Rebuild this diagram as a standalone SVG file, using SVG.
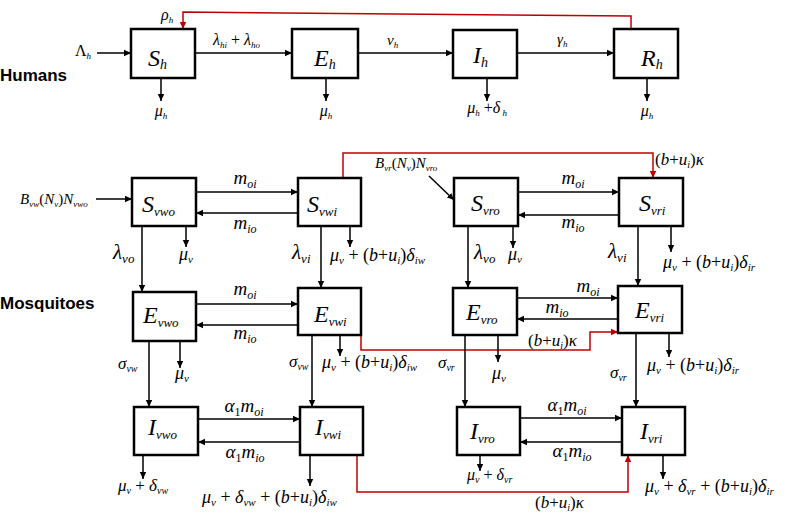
<svg xmlns="http://www.w3.org/2000/svg" width="787" height="517" viewBox="0 0 787 517">
<style>
.box{fill:#fff;stroke:#000;stroke-width:2.5}
.c{fill:none;stroke:#000;stroke-width:1.5;marker-end:url(#ah)}
.p{fill:none;stroke:#000;stroke-width:1.5}
.r{fill:none;stroke:#c00000;stroke-width:1.5;marker-end:url(#rh)}
.t{font-family:"Liberation Serif","Times New Roman",serif;font-style:italic;fill:#000}
.big{font-size:24px}
.f15{font-size:15px}
.f16{font-size:16px}
.f17{font-size:17px}
.f18{font-size:18px}
.f19{font-size:19px}
.f21{font-size:21px}
.s9{font-size:9px}
.s10{font-size:10px}
.s11{font-size:11px}
.s12{font-size:12px}
.s13{font-size:13px}
.s14{font-size:14px}
.n{font-style:normal}
.hd{font-family:"Liberation Sans",Arial,sans-serif;font-weight:bold;font-size:17px;fill:#000}
</style>
<defs>
<marker id="ah" markerWidth="8" markerHeight="8" refX="7" refY="4" orient="auto" markerUnits="userSpaceOnUse"><path d="M0,0.8 L7,4 L0,7.2 Z" fill="#000"/></marker>
<marker id="rh" markerWidth="8" markerHeight="8" refX="7" refY="4" orient="auto" markerUnits="userSpaceOnUse"><path d="M0,0.8 L7,4 L0,7.2 Z" fill="#c00000"/></marker>
</defs>

<text class="hd" x="0" y="81">Humans</text>
<text class="hd" x="0" y="309">Mosquitoes</text>

<g id="connectors">
<!-- humans -->
<path class="c" d="M97,53 H131"/>
<path class="c" d="M195,53 H292"/>
<path class="c" d="M358,53 H453"/>
<path class="c" d="M517,53 H614"/>
<path class="c" d="M161,78 V101"/>
<path class="c" d="M326,78 V101"/>
<path class="c" d="M487,78 V101"/>
<path class="c" d="M647,78 V101"/>
<path class="r" d="M631,29 V16 L183,12 V29"/>
<!-- row 1 -->
<path class="c" d="M96,199 H132"/>
<path class="c" d="M196,192 H298"/>
<path class="c" d="M298,213 H196"/>
<path class="c" d="M142,226 V292"/>
<path class="c" d="M186,226 V247"/>
<path class="c" d="M321,226 V288"/>
<path class="c" d="M350,226 V247"/>
<path class="r" d="M343,178 V153 H653 V178"/>
<path class="c" d="M429,176 L454,200"/>
<path class="c" d="M518,192 H619"/>
<path class="c" d="M619,215 H518"/>
<path class="c" d="M468,226 V288"/>
<path class="c" d="M513,226 V248"/>
<path class="c" d="M638,226 V286"/>
<path class="c" d="M671,226 V252"/>
<!-- row 2 -->
<path class="c" d="M196,304 H298"/>
<path class="c" d="M298,325 H196"/>
<path class="c" d="M149,341 V407"/>
<path class="c" d="M180,341 V368"/>
<path class="c" d="M312,335 V407"/>
<path class="c" d="M340,335 V356"/>
<path class="r" d="M361,335 V350 H590 V332 H618"/>
<path class="c" d="M517,298 H618"/>
<path class="c" d="M618,319 H517"/>
<path class="c" d="M465,335 V407"/>
<path class="c" d="M498,335 V362"/>
<path class="c" d="M636,333 V407"/>
<path class="c" d="M669,333 V357"/>
<!-- row 3 -->
<path class="c" d="M198,419 H300"/>
<path class="c" d="M300,442 H198"/>
<path class="c" d="M143,455 V479"/>
<path class="c" d="M310,455 V486"/>
<path class="r" d="M357,455 V492 H628 V455"/>
<path class="c" d="M520,418 H622"/>
<path class="c" d="M622,442 H520"/>
<path class="c" d="M480,455 V471"/>
<path class="c" d="M663,455 V479"/>
</g>

<g id="connector-labels">
<text class="t f16" x="75" y="56"><tspan class="n">Λ</tspan><tspan class="s9" dy="3">h</tspan></text>
<text class="t f16" x="161" y="20">ρ<tspan class="s9" dy="3">h</tspan></text>
<text class="t f16" x="213" y="45">λ<tspan class="s9" dy="3">hi</tspan><tspan dy="-3"><tspan class="n"> + </tspan>λ</tspan><tspan class="s9" dy="3">ho</tspan></text>
<text class="t f15" x="387" y="45">ν<tspan class="s9" dy="3">h</tspan></text>
<text class="t f15" x="557" y="44">γ<tspan class="s9" dy="3">h</tspan></text>
<text class="t f16" x="161" y="116" text-anchor="middle">μ<tspan class="s9" dy="3">h</tspan></text>
<text class="t f16" x="326" y="116" text-anchor="middle">μ<tspan class="s9" dy="3">h</tspan></text>
<text class="t f16" x="487" y="113" text-anchor="middle">μ<tspan class="s9" dy="3">h</tspan><tspan dy="-3"><tspan class="n"> +</tspan>δ</tspan><tspan class="s9" dy="3"> h</tspan></text>
<text class="t f16" x="647" y="116" text-anchor="middle">μ<tspan class="s9" dy="3">h</tspan></text>

<text class="t f15" x="20" y="204">B<tspan class="s9" dy="3">vw</tspan><tspan dy="-3"><tspan class="n">(</tspan>N</tspan><tspan class="s9" dy="3">v</tspan><tspan dy="-3"><tspan class="n">)</tspan>N</tspan><tspan class="s9" dy="3">vwo</tspan></text>
<text class="t f15" x="375" y="168">B<tspan class="s9" dy="3">vr</tspan><tspan dy="-3"><tspan class="n">(</tspan>N</tspan><tspan class="s9" dy="3">v</tspan><tspan dy="-3"><tspan class="n">)</tspan>N</tspan><tspan class="s9" dy="3">vro</tspan></text>
<text class="t f17" x="655" y="165"><tspan class="n">(</tspan>b<tspan class="n">+</tspan>u<tspan class="s10" dy="3">i</tspan><tspan dy="-3" class="n">)</tspan>κ</text>

<text class="t f19" x="245" y="184" text-anchor="middle">m<tspan class="s12" dy="4">oi</tspan></text>
<text class="t f19" x="245" y="229" text-anchor="middle">m<tspan class="s12" dy="4">io</tspan></text>
<text class="t f21" x="113" y="259">λ<tspan class="s13" dy="4">vo</tspan></text>
<text class="t f18" x="179" y="260">μ<tspan class="s11" dy="3">v</tspan></text>
<text class="t f21" x="292" y="259">λ<tspan class="s13" dy="4">vi</tspan></text>
<text class="t f18" x="330" y="261">μ<tspan class="s11" dy="3">v</tspan><tspan dy="-3" class="n"> + (</tspan>b<tspan class="n">+</tspan>u<tspan class="s11" dy="3">i</tspan><tspan dy="-3" class="n">)</tspan>δ<tspan class="s11" dy="3">iw</tspan></text>
<text class="t f19" x="573" y="184" text-anchor="middle">m<tspan class="s12" dy="4">oi</tspan></text>
<text class="t f19" x="573" y="228" text-anchor="middle">m<tspan class="s12" dy="4">io</tspan></text>
<text class="t f21" x="474" y="259">λ<tspan class="s13" dy="4">vo</tspan></text>
<text class="t f18" x="508" y="260">μ<tspan class="s11" dy="3">v</tspan></text>
<text class="t f21" x="608" y="258">λ<tspan class="s13" dy="4">vi</tspan></text>
<text class="t f18" x="663" y="268">μ<tspan class="s11" dy="3">v</tspan><tspan dy="-3" class="n"> + (</tspan>b<tspan class="n">+</tspan>u<tspan class="s11" dy="3">i</tspan><tspan dy="-3" class="n">)</tspan>δ<tspan class="s11" dy="3">ir</tspan></text>

<text class="t f19" x="245" y="295" text-anchor="middle">m<tspan class="s12" dy="4">oi</tspan></text>
<text class="t f19" x="245" y="339" text-anchor="middle">m<tspan class="s12" dy="4">io</tspan></text>
<text class="t f17" x="118" y="369">σ<tspan class="s10" dy="3">vw</tspan></text>
<text class="t f18" x="175" y="379">μ<tspan class="s11" dy="3">v</tspan></text>
<text class="t f17" x="289" y="367">σ<tspan class="s10" dy="3">vw</tspan></text>
<text class="t f18" x="322" y="368">μ<tspan class="s11" dy="3">v</tspan><tspan dy="-3" class="n"> + (</tspan>b<tspan class="n">+</tspan>u<tspan class="s11" dy="3">i</tspan><tspan dy="-3" class="n">)</tspan>δ<tspan class="s11" dy="3">iw</tspan></text>
<text class="t f17" x="438" y="368">σ<tspan class="s10" dy="3">vr</tspan></text>
<text class="t f18" x="492" y="379">μ<tspan class="s11" dy="3">v</tspan></text>
<text class="t f19" x="588" y="292" text-anchor="middle">m<tspan class="s12" dy="4">oi</tspan></text>
<text class="t f19" x="557" y="313" text-anchor="middle">m<tspan class="s12" dy="4">io</tspan></text>
<text class="t f17" x="528" y="346"><tspan class="n">(</tspan>b<tspan class="n">+</tspan>u<tspan class="s10" dy="3">i</tspan><tspan dy="-3" class="n">)</tspan>κ</text>
<text class="t f17" x="610" y="378">σ<tspan class="s10" dy="3">vr</tspan></text>
<text class="t f18" x="647" y="371">μ<tspan class="s11" dy="3">v</tspan><tspan dy="-3" class="n"> + (</tspan>b<tspan class="n">+</tspan>u<tspan class="s11" dy="3">i</tspan><tspan dy="-3" class="n">)</tspan>δ<tspan class="s11" dy="3">ir</tspan></text>

<text class="t f19" x="244" y="412" text-anchor="middle">α<tspan class="s12 n" dy="4">1</tspan><tspan dy="-4">m</tspan><tspan class="s12" dy="4">oi</tspan></text>
<text class="t f19" x="245" y="458" text-anchor="middle">α<tspan class="s12 n" dy="4">1</tspan><tspan dy="-4">m</tspan><tspan class="s12" dy="4">io</tspan></text>
<text class="t f19" x="567" y="411" text-anchor="middle">α<tspan class="s12 n" dy="4">1</tspan><tspan dy="-4">m</tspan><tspan class="s12" dy="4">oi</tspan></text>
<text class="t f19" x="572" y="457" text-anchor="middle">α<tspan class="s12 n" dy="4">1</tspan><tspan dy="-4">m</tspan><tspan class="s12" dy="4">io</tspan></text>
<text class="t f17" x="118" y="491">μ<tspan class="s10" dy="3">v</tspan><tspan dy="-3" class="n"> + </tspan>δ<tspan class="s10" dy="3">vw</tspan></text>
<text class="t f18" x="202" y="503">μ<tspan class="s11" dy="3">v</tspan><tspan dy="-3" class="n"> + </tspan>δ<tspan class="s11" dy="3">vw</tspan><tspan dy="-3" class="n"> + (</tspan>b<tspan class="n">+</tspan>u<tspan class="s11" dy="3">i</tspan><tspan dy="-3" class="n">)</tspan>δ<tspan class="s11" dy="3">iw</tspan></text>
<text class="t f16" x="467" y="480">μ<tspan class="s10" dy="3">v</tspan><tspan dy="-3" class="n"> + </tspan>δ<tspan class="s10" dy="3">vr</tspan></text>
<text class="t f18" x="645" y="492">μ<tspan class="s11" dy="3">v</tspan><tspan dy="-3" class="n"> + </tspan>δ<tspan class="s11" dy="3">vr</tspan><tspan dy="-3" class="n"> + (</tspan>b<tspan class="n">+</tspan>u<tspan class="s11" dy="3">i</tspan><tspan dy="-3" class="n">)</tspan>δ<tspan class="s11" dy="3">ir</tspan></text>
<text class="t f17" x="535" y="508"><tspan class="n">(</tspan>b<tspan class="n">+</tspan>u<tspan class="s10" dy="3">i</tspan><tspan dy="-3" class="n">)</tspan>κ</text>
</g>

<g id="Sh"><rect class="box" x="131" y="29" width="64" height="49"/><text class="t big" x="148" y="66">S<tspan class="s14" dy="3">h</tspan></text></g>
<g id="Eh"><rect class="box" x="292" y="29" width="66" height="49"/><text class="t big" x="314" y="66">E<tspan class="s14" dy="3">h</tspan></text></g>
<g id="Ih"><rect class="box" x="453" y="30" width="64" height="48"/><text class="t big" x="473" y="63">I<tspan class="s14" dy="4">h</tspan></text></g>
<g id="Rh"><rect class="box" x="614" y="29" width="64" height="49"/><text class="t big" x="641" y="66">R<tspan class="s14" dy="3">h</tspan></text></g>

<g id="Svwo"><rect class="box" x="132" y="178" width="64" height="48"/><text class="t big" x="142" y="212">S<tspan class="s13" dy="4">vwo</tspan></text></g>
<g id="Svwi"><rect class="box" x="298" y="178" width="63" height="48"/><text class="t big" x="307" y="212">S<tspan class="s13" dy="4">vwi</tspan></text></g>
<g id="Svro"><rect class="box" x="454" y="178" width="64" height="48"/><text class="t big" x="471" y="211">S<tspan class="s13" dy="4">vro</tspan></text></g>
<g id="Svri"><rect class="box" x="619" y="178" width="64" height="48"/><text class="t big" x="639" y="211">S<tspan class="s13" dy="4">vri</tspan></text></g>

<g id="Evwo"><rect class="box" x="133" y="292" width="63" height="49"/><text class="t big" x="143" y="323">E<tspan class="s13" dy="4">vwo</tspan></text></g>
<g id="Evwi"><rect class="box" x="298" y="288" width="63" height="47"/><text class="t big" x="314" y="322">E<tspan class="s13" dy="4">vwi</tspan></text></g>
<g id="Evro"><rect class="box" x="453" y="288" width="64" height="47"/><text class="t big" x="466" y="320">E<tspan class="s13" dy="4">vro</tspan></text></g>
<g id="Evri"><rect class="box" x="618" y="286" width="64" height="47"/><text class="t big" x="635" y="318">E<tspan class="s13" dy="4">vri</tspan></text></g>

<g id="Ivwo"><rect class="box" x="134" y="407" width="64" height="48"/><text class="t big" x="148" y="435">I<tspan class="s13" dy="4">vwo</tspan></text></g>
<g id="Ivwi"><rect class="box" x="300" y="407" width="63" height="48"/><text class="t big" x="315" y="435">I<tspan class="s13" dy="4">vwi</tspan></text></g>
<g id="Ivro"><rect class="box" x="457" y="407" width="63" height="48"/><text class="t big" x="470" y="439">I<tspan class="s13" dy="4">vro</tspan></text></g>
<g id="Ivri"><rect class="box" x="622" y="407" width="63" height="48"/><text class="t big" x="640" y="439">I<tspan class="s13" dy="4">vri</tspan></text></g>
</svg>
